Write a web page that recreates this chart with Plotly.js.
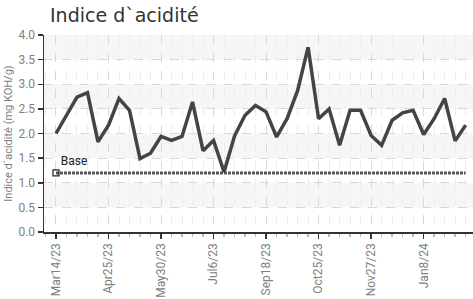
<!DOCTYPE html>
<html>
<head>
<meta charset="utf-8">
<script src="https://cdn.plot.ly/plotly-3.0.1.min.js"></script>
<style>html,body{margin:0;padding:0;background:#fff;}#chart{width:473px;height:299px;}</style>
</head>
<body>
<div id="chart"></div>
<script>
// Sample index (categorical positions along the x axis)
const sampleIndex = [0,1,2,3,4,5,6,7,8,9,10,11,12,13,14,15,16,17,18,19,20,21,22,23,24,25,26,27,28,29,30,31,32,33,34,35,36,37,38,39];
// Acid index values (mg KOH/g)
const acidValues = [2.0,2.37,2.74,2.83,1.83,2.17,2.71,2.47,1.49,1.6,1.94,1.86,1.94,2.64,1.65,1.86,1.22,1.95,2.37,2.57,2.44,1.93,2.3,2.87,3.75,2.3,2.5,1.76,2.47,2.47,1.96,1.76,2.27,2.42,2.47,1.98,2.3,2.71,1.85,2.17];
// Base reference level
const baseValue = 1.2;
const baseLabel = 'Base';
// Tick labels
const tickPositions = [0,5,10,15,20,25,30,35];
const tickLabels = ['Mar14/23','Apr25/23','May30/23','Jul6/23','Sep18/23','Oct25/23','Nov27/23','Jan8/24'];
const yBands = [[0.5,1.0],[1.5,2.0],[2.5,3.0],[3.5,4.0]];

const narrow = 'Roboto, sans-serif';

const traces = [
  {
    x: sampleIndex,
    y: sampleIndex.map(() => baseValue),
    mode: 'lines',
    line: {color: '#555', width: 3, dash: '3px,1px'},
    hoverinfo: 'skip'
  },
  {
    x: [sampleIndex[0]],
    y: [baseValue],
    mode: 'markers+text',
    marker: {symbol: 'square-open', size: 6, color: '#222', line: {width: 1.2, color: '#222'}},
    text: [baseLabel],
    textposition: 'top right',
    textfont: {family: narrow, size: 12, color: '#222'},
    cliponaxis: false
  },
  {
    x: sampleIndex,
    y: acidValues,
    mode: 'lines',
    line: {color: '#444', width: 3.5}
  }
];

const shapes = yBands.map(b => ({
  type: 'rect', xref: 'paper', yref: 'y', x0: 0, x1: 1, y0: b[0], y1: b[1],
  fillcolor: '#f6f6f6', line: {width: 0}, layer: 'below'
}));

const layout = {
  width: 473, height: 299,
  margin: {l: 44, r: 0, t: 35, b: 67},
  paper_bgcolor: '#fff', plot_bgcolor: '#fff',
  showlegend: false,
  shapes: shapes,
  title: {
    text: 'Indice d`acidité',
    font: {family: '"DejaVu Sans", sans-serif', size: 19, color: '#333'},
    x: 50 / 473, xref: 'container', xanchor: 'left', y: 1 - 15 / 299, yref: 'container', yanchor: 'middle'
  },
  xaxis: {
    range: [-1.14, 39.7],
    tickmode: 'array', tickvals: tickPositions, ticktext: tickLabels,
    tickangle: -90,
    ticks: 'outside', ticklen: 5, tickwidth: 1.5, tickcolor: '#333',
    tickfont: {family: narrow, size: 12, color: '#808080'},
    showline: true, linecolor: '#333', linewidth: 1.5,
    showgrid: true, gridcolor: '#d8d8d8', griddash: 'dash', gridwidth: 1,
    minor: {tickmode: 'linear', tick0: 0, dtick: 1, ticks: 'outside', ticklen: 3, tickcolor: '#bbb', showgrid: true, gridcolor: '#ececec', griddash: 'dash'},
    zeroline: false, fixedrange: true
  },
  yaxis: {
    range: [0, 4],
    dtick: 0.5, tick0: 0, tickformat: '.1f',
    ticks: 'outside', ticklen: 5, tickwidth: 1.5, tickcolor: '#333',
    tickfont: {family: narrow, size: 12, color: '#808080'},
    showline: true, linecolor: '#333', linewidth: 1.5,
    showgrid: true, gridcolor: '#d8d8d8', griddash: 'dash', gridwidth: 1,
    zeroline: false,
    title: {text: 'Indice d`acidité (mg KOH/g)', font: {family: narrow, size: 11, color: '#808080'}, standoff: 3},
    fixedrange: true
  }
};

Plotly.newPlot('chart', traces, layout, {displayModeBar: false, staticPlot: true});
</script>
</body>
</html>
